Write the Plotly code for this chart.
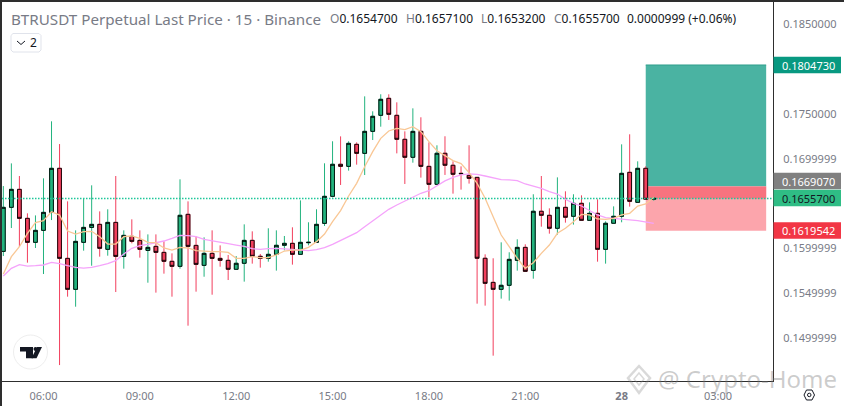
import pandas as pd
import plotly.graph_objects as go

# 15 minute candles
times = pd.date_range("2025-10-27 04:45", periods=82, freq="15min")

opens = [0.15965, 0.16457, 0.16658, 0.16334, 0.16066, 0.16200, 0.16401, 0.16893, 0.15887, 0.15541,
         0.16066, 0.16233, 0.16267, 0.15988, 0.16289, 0.15909, 0.16133, 0.16088, 0.15976, 0.16021,
         0.15954, 0.15854, 0.15798, 0.16379, 0.16032, 0.15809, 0.15943, 0.15887, 0.15865, 0.15765,
         0.15832, 0.16088, 0.15910, 0.15887, 0.15932, 0.16033, 0.16055, 0.15932, 0.16062, 0.16066,
         0.16278, 0.16580, 0.16938, 0.16915, 0.17161, 0.17060, 0.17306, 0.17485, 0.17675, 0.17485,
         0.17217, 0.17016, 0.17306, 0.16915, 0.16714, 0.17061, 0.16927, 0.16837, 0.16815, 0.16792,
         0.15888, 0.15619, 0.15541, 0.15586, 0.15865, 0.16010, 0.15753, 0.16413, 0.16368, 0.16223,
         0.16457, 0.16357, 0.16502, 0.16312, 0.16390, 0.15988, 0.16279, 0.16357, 0.16848, 0.16513,
         0.16893, 0.16547]
closes = [0.16457, 0.16658, 0.16334, 0.16066, 0.16200, 0.16401, 0.16893, 0.15887, 0.15541, 0.16077,
          0.16233, 0.16267, 0.15999, 0.16289, 0.15909, 0.16144, 0.16077, 0.15988, 0.16010, 0.15954,
          0.15854, 0.15798, 0.16368, 0.16021, 0.15820, 0.15943, 0.15887, 0.15865, 0.15765, 0.15832,
          0.16088, 0.15910, 0.15887, 0.15932, 0.16033, 0.16055, 0.15932, 0.16066, 0.16066, 0.16267,
          0.16580, 0.16938, 0.16915, 0.17172, 0.17060, 0.17306, 0.17474, 0.17664, 0.17496, 0.17217,
          0.17016, 0.17306, 0.16915, 0.16714, 0.17061, 0.16927, 0.16826, 0.16833, 0.16781, 0.15888,
          0.15608, 0.15541, 0.15586, 0.15876, 0.16010, 0.15742, 0.16413, 0.16368, 0.16223, 0.16457,
          0.16346, 0.16502, 0.16312, 0.16390, 0.15988, 0.16279, 0.16357, 0.16837, 0.16524, 0.16893,
          0.16547, 0.16557]
highs = [0.16695, 0.16948, 0.16807, 0.16390, 0.16367, 0.16781, 0.17418, 0.17164, 0.16524, 0.16200,
         0.16557, 0.16703, 0.16412, 0.16435, 0.16807, 0.16200, 0.16323, 0.16200, 0.16155, 0.16155,
         0.16077, 0.15943, 0.16770, 0.16524, 0.16133, 0.16122, 0.16200, 0.16032, 0.15925, 0.15913,
         0.16267, 0.16189, 0.15936, 0.16223, 0.16200, 0.16137, 0.16234, 0.16535, 0.16290, 0.16435,
         0.16949, 0.17195, 0.17250, 0.17195, 0.17183, 0.17697, 0.17530, 0.17720, 0.17720, 0.17630,
         0.17306, 0.17563, 0.17463, 0.17183, 0.17150, 0.17251, 0.16971, 0.16915, 0.17150, 0.16792,
         0.15932, 0.15888, 0.16066, 0.15955, 0.16100, 0.16044, 0.16603, 0.16807, 0.16446, 0.16792,
         0.16636, 0.16603, 0.16591, 0.16513, 0.16547, 0.16301, 0.16468, 0.17161, 0.17273, 0.16971,
         0.16915, 0.16571]
lows = [0.15913, 0.16226, 0.16017, 0.15839, 0.16003, 0.15712, 0.16315, 0.14695, 0.15459, 0.15347,
        0.15973, 0.15805, 0.15906, 0.15917, 0.15511, 0.15772, 0.16055, 0.15895, 0.15615, 0.15504,
        0.15716, 0.15459, 0.15772, 0.15135, 0.15515, 0.15682, 0.15481, 0.15794, 0.15645, 0.15757,
        0.15627, 0.15828, 0.15783, 0.15850, 0.15750, 0.15977, 0.15817, 0.15932, 0.16033, 0.16062,
        0.16249, 0.16569, 0.16707, 0.16867, 0.16934, 0.16818, 0.17209, 0.17358, 0.17433, 0.17060,
        0.16718, 0.16956, 0.16789, 0.16569, 0.16707, 0.16819, 0.16610, 0.16655, 0.16722, 0.15381,
        0.15359, 0.14800, 0.15437, 0.15415, 0.15750, 0.15739, 0.15660, 0.16241, 0.16163, 0.16152,
        0.16286, 0.16264, 0.16308, 0.16308, 0.15850, 0.15828, 0.16279, 0.16290, 0.16465, 0.16513,
        0.16547, 0.16532]

fast_ma = [0.15712, 0.15906, 0.16017, 0.16166, 0.16286, 0.16308, 0.16408, 0.16371, 0.16192, 0.16159,
           0.16185, 0.16189, 0.16129, 0.16047, 0.16047, 0.16129, 0.16137, 0.16111, 0.16066, 0.16062,
           0.16003, 0.15980, 0.16010, 0.16003, 0.15973, 0.15965, 0.15962, 0.15962, 0.15954, 0.15887,
           0.15887, 0.15906, 0.15895, 0.15895, 0.15925, 0.15969, 0.15980, 0.15980, 0.16010, 0.16074,
           0.16159, 0.16297, 0.16420, 0.16584, 0.16725, 0.16911, 0.17079, 0.17228, 0.17310, 0.17340,
           0.17325, 0.17358, 0.17302, 0.17191, 0.17090, 0.17035, 0.16979, 0.16945, 0.16845, 0.16725,
           0.16558, 0.16353, 0.16148, 0.16018, 0.15888, 0.15776, 0.15839, 0.15943, 0.16036, 0.16167,
           0.16223, 0.16297, 0.16379, 0.16372, 0.16327, 0.16323, 0.16334, 0.16372, 0.16390, 0.16472,
           0.16495, 0.16569]
slow_ma = [0.15690, 0.15775, 0.15816, 0.15801, 0.15805, 0.15813, 0.15842, 0.15828, 0.15805, 0.15787,
           0.15779, 0.15787, 0.15805, 0.15828, 0.15861, 0.15936, 0.15999, 0.16029, 0.16044, 0.16062,
           0.16081, 0.16111, 0.16144, 0.16140, 0.16129, 0.16099, 0.16081, 0.16062, 0.16051, 0.16036,
           0.16021, 0.15995, 0.15988, 0.15995, 0.15999, 0.15992, 0.15988, 0.15977, 0.15973, 0.15984,
           0.16007, 0.16044, 0.16088, 0.16129, 0.16174, 0.16241, 0.16304, 0.16368, 0.16435, 0.16483,
           0.16528, 0.16576, 0.16614, 0.16643, 0.16699, 0.16752, 0.16792, 0.16819, 0.16830, 0.16826,
           0.16807, 0.16785, 0.16766, 0.16763, 0.16755, 0.16718, 0.16696, 0.16670, 0.16632, 0.16606,
           0.16547, 0.16502, 0.16472, 0.16420, 0.16372, 0.16342, 0.16331, 0.16323, 0.16316, 0.16308,
           0.16293, 0.16279]

price_ticks = [0.185, 0.175, 0.17, 0.16, 0.155, 0.15]
price_tick_labels = ["0.1850000", "0.1750000", "0.1699999", "0.1599999", "0.1549999", "0.1499999"]
time_ticks = ["2025-10-27 06:00", "2025-10-27 09:00", "2025-10-27 12:00", "2025-10-27 15:00",
              "2025-10-27 18:00", "2025-10-27 21:00", "2025-10-28 00:00", "2025-10-28 03:00"]
time_tick_labels = ["06:00", "09:00", "12:00", "15:00", "18:00", "21:00", "<b>28</b>", "03:00"]

target_price = 0.1804730
entry_price = 0.1669070
stop_price = 0.1619542
last_price = 0.1655700
position_start = "2025-10-28 00:45"
position_end = "2025-10-28 04:30"

title_text = "BTRUSDT Perpetual Last Price · 15 · Binance"
ohlc_names = ["O", "H", "L", "C"]
ohlc_values = ["0.1654700", "0.1657100", "0.1653200", "0.1655700"]
change_text = "0.0000999 (+0.06%)"

UP = "#22b37e"
DOWN = "#f23f5d"
GREY = "#787b86"
FONT = "Noto Sans"

# plot area in window pixels
LEFT, RIGHT, TOP, BOTTOM = 2, 773, 2, 381


def px(x):
    return (x - LEFT) / (RIGHT - LEFT)


def py(y):
    return (BOTTOM - y) / (BOTTOM - TOP)


def pix_path(points, close=True):
    s = "M" + " L".join(f"{px(x):.5f},{py(y):.5f}" for x, y in points)
    return s + (" Z" if close else "")


fig = go.Figure()

fig.add_trace(go.Scatter(x=times, y=slow_ma, mode="lines", hoverinfo="skip",
                         line=dict(color="#f5a3fb", width=1.3)))
fig.add_trace(go.Scatter(x=times, y=fast_ma, mode="lines", hoverinfo="skip",
                         line=dict(color="#f9c795", width=1.3)))

# wicks in the candle colour, black outlined bodies on top of them
fig.add_trace(go.Candlestick(
    x=times, open=opens, high=highs, low=lows, close=closes,
    whiskerwidth=0, hoverinfo="skip",
    increasing=dict(line=dict(color=UP, width=1), fillcolor=UP),
    decreasing=dict(line=dict(color=DOWN, width=1), fillcolor=DOWN)))
fig.add_trace(go.Candlestick(
    x=times, open=opens, close=closes,
    high=[max(o, c) for o, c in zip(opens, closes)],
    low=[min(o, c) for o, c in zip(opens, closes)],
    whiskerwidth=0, hoverinfo="skip",
    increasing=dict(line=dict(color="#000000", width=0.9), fillcolor=UP),
    decreasing=dict(line=dict(color="#000000", width=0.9), fillcolor=DOWN)))

shapes = [
    # long position tool
    dict(type="rect", layer="below", x0=position_start, x1=position_end, y0=entry_price, y1=target_price,
         xref="x", yref="y", fillcolor="#4ab3a2", line_width=0),
    dict(type="line", layer="below", x0=position_start, x1=position_end, y0=target_price, y1=target_price,
         xref="x", yref="y", line=dict(color="#2f9e8c", width=1)),
    dict(type="rect", layer="below", x0=position_start, x1=position_end, y0=stop_price, y1=entry_price,
         xref="x", yref="y", fillcolor="#fca5ac", line_width=0),
    dict(type="rect", layer="below", x0=position_start, x1=position_end, y0=last_price, y1=entry_price,
         xref="x", yref="y", fillcolor="#f8737f", line_width=0),
    # last price line
    dict(type="line", layer="above", x0=0, x1=1, y0=last_price, y1=last_price, xref="paper", yref="y",
         line=dict(color="#1fc79a", width=1.5, dash="1.5px,1.5px")),
    # window frame
    dict(type="rect", x0=px(0), x1=px(844), y0=py(0), y1=py(2), xref="paper", yref="paper",
         fillcolor="#2e2e2e", line_width=0),
    dict(type="rect", x0=px(0), x1=px(2), y0=py(0), y1=py(406), xref="paper", yref="paper",
         fillcolor="#2e2e2e", line_width=0),
    # collapse button
    dict(type="path", xref="paper", yref="paper", line=dict(color="#e0e3eb", width=1), fillcolor="white",
         path=pix_path([(13, 33.5), (39, 33.5), (41, 35.5), (41, 50), (39, 52), (13, 52), (11, 50), (11, 35.5)])),
    dict(type="path", xref="paper", yref="paper", line=dict(color="#131722", width=1),
         path=pix_path([(17, 41), (21, 44.5), (25, 41)], close=False)),
    # logo badge
    dict(type="circle", xref="paper", yref="paper", x0=px(13.5), x1=px(47.5), y0=py(335), y1=py(369),
         fillcolor="white", line=dict(color="#eeeeee", width=1)),
    dict(type="path", xref="paper", yref="paper", fillcolor="#131722", line_width=0,
         path=pix_path([(20, 347), (33, 347), (33, 358.3), (26, 358.3), (26, 351.5), (20, 351.5)])),
    dict(type="circle", xref="paper", yref="paper", x0=px(33.5), x1=px(37.5), y0=py(347), y1=py(351),
         fillcolor="#131722", line_width=0),
    dict(type="path", xref="paper", yref="paper", fillcolor="#131722", line_width=0,
         path=pix_path([(37, 347), (42, 347), (36.5, 358.3), (31.5, 358.3)])),
    # settings icon
    dict(type="path", xref="paper", yref="paper", line=dict(color="#131722", width=1),
         path=pix_path([(804, 395), (806.5, 390), (812, 390), (814.5, 395), (812, 400), (806.5, 400)])),
    dict(type="circle", xref="paper", yref="paper", x0=px(807.5), x1=px(811), y0=py(393.2), y1=py(396.7),
         line=dict(color="#131722", width=1)),
    # watermark icon
    dict(type="path", xref="paper", yref="paper", line=dict(color="rgba(130,130,130,0.3)", width=2.5),
         path=pix_path([(639, 366), (650, 378), (639, 393), (628, 378)])),
    dict(type="path", xref="paper", yref="paper", line=dict(color="rgba(130,130,130,0.3)", width=1.5),
         path=pix_path([(639, 373), (644, 379), (639, 385), (634, 379)])),
]

annotations = [
    dict(text=title_text, x=px(9), y=py(19), font=dict(size=15.2, color=GREY)),
    dict(text="2", x=px(28), y=py(43), font=dict(size=12, color="#131722")),
]
for name, value, left in zip(ohlc_names, ohlc_values, [328, 404, 479, 552]):
    annotations.append(dict(text=f'<span style="color:{GREY}">{name}</span>{value}',
                            x=px(left), y=py(19), font=dict(size=12, color="#131722")))
annotations.append(dict(text=change_text, x=px(625), y=py(19), font=dict(size=12, color="#131722")))

# price tags on the axis
tags = [(target_price, "0.1804730", 65, "#089981", "white"),
        (entry_price, "0.1669070", 181, "#808080", "white"),
        (last_price, "0.1655700", 198, "#2fbd85", "#131722"),
        (stop_price, "0.1619542", 230.5, "#f23645", "white")]
for price, label, y, bg, fg in tags:
    shapes.append(dict(type="rect", xref="paper", yref="paper", x0=px(773.5), x1=px(841),
                       y0=py(y - 8.3), y1=py(y + 8.3), fillcolor=bg, line_width=0))
    annotations.append(dict(text=label, x=px(780), y=py(y), font=dict(size=11, color=fg)))

annotations.append(dict(text="@ Crypto-Home", x=px(656), y=py(378),
                        font=dict(size=24, color="rgba(120,120,120,0.38)")))

for a in annotations:
    a.update(xref="paper", yref="paper", xanchor="left", yanchor="middle", showarrow=False)

fig.update_layout(
    width=844,
    height=406,
    margin=dict(l=LEFT, r=844 - RIGHT, t=TOP, b=406 - BOTTOM),
    paper_bgcolor="white",
    plot_bgcolor="white",
    showlegend=False,
    boxgap=0.33,
    shapes=shapes,
    annotations=annotations,
    font=dict(family=FONT, color=GREY, size=11),
)
fig.update_xaxes(
    type="date",
    range=["2025-10-27 04:42:30", "2025-10-28 04:42:45"],
    rangeslider=dict(visible=False),
    tickmode="array",
    tickvals=time_ticks,
    ticktext=time_tick_labels,
    showgrid=False,
    zeroline=False,
    showline=True,
    linecolor="#2e2e2e",
    linewidth=1,
    ticks="outside",
    ticklen=5,
    tickcolor="white",
    tickfont=dict(size=11, color=GREY),
)
fig.update_yaxes(
    side="right",
    range=[0.14517, 0.18751],
    tickmode="array",
    tickvals=price_ticks,
    ticktext=price_tick_labels,
    showgrid=False,
    zeroline=False,
    showline=True,
    linecolor="#2e2e2e",
    linewidth=1,
    ticks="outside",
    ticklen=7,
    tickcolor="white",
    tickfont=dict(size=11, color=GREY),
)

fig.write_html("out.html", config=dict(displayModeBar=False),
               post_script="document.body.style.margin='0';document.body.style.overflow='hidden';")
